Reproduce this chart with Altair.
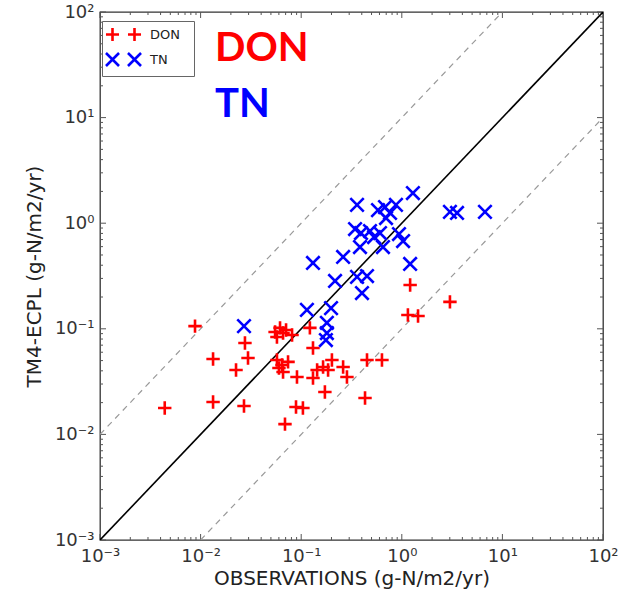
import altair as alt
import pandas as pd

# ---- data ----
don_x = [0.0044, 0.0088, 0.0133, 0.0133, 0.027, 0.0276, 0.0296, 0.0225, 0.055, 0.0616,
         0.066, 0.0574, 0.0707, 0.0811, 0.122, 0.0574, 0.0645, 0.074, 0.066, 0.0601,
         0.0908, 0.131, 0.144, 0.131, 0.165, 0.202, 0.185, 0.261, 0.285, 0.172,
         0.0888, 0.104, 0.069, 0.451, 0.635, 0.431, 1.21, 3.01, 1.15, 1.45]
don_y = [0.0178, 0.106, 0.0518, 0.0203, 0.0186, 0.0734, 0.0529, 0.0407, 0.0933, 0.102,
         0.0912, 0.0835, 0.0975, 0.0873, 0.102, 0.0507, 0.0454, 0.0486, 0.039, 0.0426,
         0.035, 0.0658, 0.0407, 0.0342, 0.0435, 0.0507, 0.0407, 0.0435, 0.035, 0.0252,
         0.0182, 0.0178, 0.0125, 0.0507, 0.0507, 0.0221, 0.26, 0.18, 0.135, 0.132]
tn_x = [0.027, 0.114, 0.198, 0.18, 0.18, 0.176, 0.131, 0.261, 0.217, 0.359,
        0.343, 0.393, 0.384, 0.483, 0.53, 0.607, 0.58, 0.681, 0.764, 0.875,
        0.65, 0.938, 1.03, 1.29, 1.21, 0.359, 0.451, 0.402, 3.01, 3.54, 6.71, 0.697]
tn_y = [0.106, 0.151, 0.157, 0.114, 0.0912, 0.0783, 0.42, 0.479, 0.284, 1.49,
        0.881, 0.807, 0.595, 0.843, 0.74, 0.807, 1.33, 1.42, 1.25, 1.49,
        0.595, 0.79, 0.678, 1.93, 0.411, 0.31, 0.316, 0.218, 1.28, 1.25, 1.28, 1.12]

series_names = ["DON", "TN"]
series_colors = ["#ff0000", "#0000ff"]

major_ticks = [1e-3, 1e-2, 1e-1, 1e0, 1e1, 1e2]
tick_labels = ["10⁻³", "10⁻²", "10⁻¹", "10⁰", "10¹", "10²"]
minor_ticks = [k * 10.0 ** e for e in range(-3, 2) for k in range(2, 10)]

# reference lines (1:1 and factor of 10)
one_x = [1e-3, 1e2]
one_y = [1e-3, 1e2]
up_x = [1e-3, 1e1]
up_y = [1e-2, 1e2]
lo_x = [1e-2, 1e2]
lo_y = [1e-3, 1e1]

ann_text = ["DON", "TN"]
ann_x = [0.0139, 0.0139]
ann_y = [34.4, 10.1]

# ---- tables ----
pts = pd.DataFrame({
    "x": don_x + tn_x,
    "y": don_y + tn_y,
    "series": ["DON"] * len(don_x) + ["TN"] * len(tn_x),
})
one_df = pd.DataFrame({"x": one_x, "y": one_y})
dash_df = pd.DataFrame({"x": up_x + lo_x, "y": up_y + lo_y,
                        "seg": ["up", "up", "lo", "lo"]})
ann_df = pd.DataFrame({"x": ann_x, "y": ann_y, "t": ann_text, "c": series_colors})
maj_df = pd.DataFrame({"v": major_ticks})
min_df = pd.DataFrame({"v": minor_ticks})

W, H = 503, 528
xscale = alt.Scale(type="log", domain=[1e-3, 1e2], nice=False)
yscale = alt.Scale(type="log", domain=[1e-3, 1e2], nice=False)

lab_expr = "[" + ",".join("'%s'" % t for t in tick_labels) + "][round(log(datum.value)/LN10)+3]"
FONT = "DejaVu Sans"
xaxis = alt.Axis(values=major_ticks, labelExpr=lab_expr, ticks=False, domain=False, grid=False,
                 labelFont=FONT, labelFontSize=18, labelColor="#333", labelPadding=7,
                 labelFlush=False, labelOverlap=False,
                 title="OBSERVATIONS (g-N/m2/yr)", titleFont=FONT, titleFontSize=20,
                 titleFontWeight="normal", titleColor="#222", titlePadding=3)
yaxis = alt.Axis(values=major_ticks, labelExpr=lab_expr, ticks=False, domain=False, grid=False,
                 labelFont=FONT, labelFontSize=18, labelColor="#333", labelPadding=6,
                 labelFlush=False, labelOverlap=False,
                 title="TM4-ECPL (g-N/m2/yr)", titleFont=FONT, titleFontSize=20,
                 titleFontWeight="normal", titleColor="#222", titlePadding=10)


def X(field="x"):
    return alt.X(field, type="quantitative", scale=xscale, axis=xaxis)


def Y(field="y"):
    return alt.Y(field, type="quantitative", scale=yscale, axis=yaxis)


PLUS = "M-1,0H1M0,-1V1"
CROSS = "M-1,-1L1,1M-1,1L1,-1"
PLUS2 = "M-2.19,0H-0.56M-1.375,-0.81V0.81M0.56,0H2.19M1.375,-0.81V0.81"
CROSS2 = ("M-2.19,-0.81L-0.56,0.81M-2.19,0.81L-0.56,-0.81"
          "M0.56,-0.81L2.19,0.81M0.56,0.81L2.19,-0.81")

tick_color = "#555"
# inward ticks on all four sides
ticks = []
for df, ln in ((maj_df, 6), (min_df, 3)):
    ticks.append(alt.Chart(df).mark_rule(color=tick_color, strokeWidth=1).encode(
        x=X("v"), y=alt.value(H), y2=alt.value(H - ln)))
    ticks.append(alt.Chart(df).mark_rule(color=tick_color, strokeWidth=1).encode(
        x=X("v"), y=alt.value(0), y2=alt.value(ln)))
    ticks.append(alt.Chart(df).mark_rule(color=tick_color, strokeWidth=1).encode(
        y=Y("v"), x=alt.value(0), x2=alt.value(ln)))
    ticks.append(alt.Chart(df).mark_rule(color=tick_color, strokeWidth=1).encode(
        y=Y("v"), x=alt.value(W), x2=alt.value(W - ln)))

dash_lines = alt.Chart(dash_df).mark_line(color="#999", strokeWidth=1.2, strokeDash=[6, 5],
                                          clip=True).encode(x=X(), y=Y(), detail="seg:N")
one_line = alt.Chart(one_df).mark_line(color="black", strokeWidth=1.6, clip=True).encode(x=X(), y=Y())

points = alt.Chart(pts).mark_point(filled=False, strokeWidth=2.6, size=180, opacity=1).encode(
    x=X(), y=Y(),
    shape=alt.Shape("series:N", scale=alt.Scale(domain=series_names, range=[PLUS, CROSS]), legend=None),
    color=alt.Color("series:N", scale=alt.Scale(domain=series_names, range=series_colors), legend=None),
)

legend_layer = alt.Chart(pts).mark_point(filled=False, strokeWidth=2.6, opacity=0).encode(
    x=X(), y=Y(),
    shape=alt.Shape("lg:N", scale=alt.Scale(domain=series_names, range=[PLUS2, CROSS2]),
                    legend=alt.Legend(title=None, orient="none", legendX=2, legendY=9,
                                      fillColor="white", strokeColor="#666", padding=4,
                                      symbolSize=256, symbolStrokeWidth=2.6, symbolOpacity=1,
                                      symbolOffset=8, labelOffset=17, rowPadding=0,
                                      labelExpr="datum.label + '\u2800'",
                                      labelFont=FONT, labelFontSize=13, labelColor="#222")),
    color=alt.Color("lg:N", scale=alt.Scale(domain=series_names, range=series_colors)),
).transform_calculate(lg="datum.series")

ann = alt.Chart(ann_df).mark_text(align="left", baseline="alphabetic", font="Lato",
                                  fontWeight="bold", fontSize=40).encode(
    x=X(), y=Y(), text="t:N", color=alt.Color("c:N", scale=None))

chart = alt.layer(*ticks, dash_lines, one_line, points, legend_layer, ann).resolve_scale(
    shape="independent", color="independent"
).properties(
    width=W, height=H, autosize="none",
    padding={"left": 100, "top": 12, "right": 22, "bottom": 66},
).configure_view(stroke="#333", strokeWidth=1.3)

chart.save("out.html", embed_options={"renderer": "svg", "actions": False})
